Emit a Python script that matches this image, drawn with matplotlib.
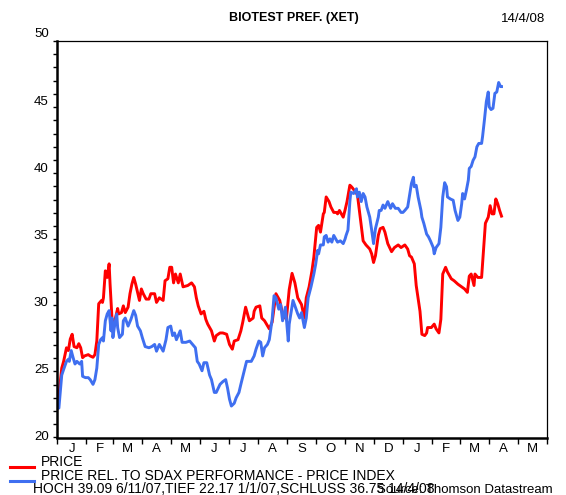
import matplotlib
matplotlib.use("Agg")
import matplotlib.pyplot as plt
import matplotlib.transforms as mtransforms
from matplotlib.ticker import MultipleLocator
import numpy as np
import pandas as pd

plt.rcParams['font.family'] = ['Liberation Sans', 'DejaVu Sans']

title = "BIOTEST PREF. (XET)"
date_label = "14/4/08"
legend_labels = ["PRICE", "PRICE REL. TO SDAX PERFORMANCE - PRICE INDEX"]
footer = "HOCH 39.09 6/11/07,TIEF 22.17 1/1/07,SCHLUSS 36.75 14/4/08"
source = "Source: Thomson Datastream"
month_labels = ["J", "F", "M", "A", "M", "J", "J", "A", "S", "O", "N", "D", "J", "F", "M", "A", "M"]
y_ticks = [20, 25, 30, 35, 40, 45, 50]

price_dates = [
    "2007-01-01", "2007-01-02", "2007-01-06", "2007-01-08", "2007-01-11", "2007-01-13", "2007-01-15",
    "2007-01-17", "2007-01-19", "2007-01-22", "2007-01-24", "2007-01-26", "2007-01-28", "2007-01-30",
    "2007-02-03", "2007-02-05", "2007-02-08", "2007-02-10", "2007-02-12", "2007-02-14", "2007-02-17",
    "2007-02-18", "2007-02-19", "2007-02-21", "2007-02-23", "2007-02-25", "2007-02-26", "2007-02-28",
    "2007-03-01", "2007-03-03", "2007-03-06", "2007-03-07", "2007-03-10", "2007-03-12", "2007-03-14",
    "2007-03-17", "2007-03-19", "2007-03-21", "2007-03-23", "2007-03-25", "2007-03-27", "2007-03-29",
    "2007-03-31", "2007-04-02", "2007-04-05", "2007-04-08", "2007-04-10", "2007-04-14", "2007-04-16",
    "2007-04-19", "2007-04-23", "2007-04-25", "2007-04-28", "2007-04-30", "2007-05-02", "2007-05-04",
    "2007-05-06", "2007-05-09", "2007-05-11", "2007-05-14", "2007-05-19", "2007-05-23", "2007-05-26",
    "2007-05-28", "2007-05-30", "2007-06-02", "2007-06-05", "2007-06-07", "2007-06-09", "2007-06-13",
    "2007-06-16", "2007-06-18", "2007-06-22", "2007-06-25", "2007-06-29", "2007-07-02", "2007-07-05",
    "2007-07-07", "2007-07-11", "2007-07-14", "2007-07-16", "2007-07-19", "2007-07-21", "2007-07-23",
    "2007-07-27", "2007-07-28", "2007-07-30", "2007-08-03", "2007-08-05", "2007-08-08", "2007-08-10",
    "2007-08-13", "2007-08-16", "2007-08-19", "2007-08-20", "2007-08-24", "2007-08-27", "2007-08-31",
    "2007-09-03", "2007-09-06", "2007-09-09", "2007-09-12", "2007-09-16", "2007-09-19", "2007-09-21",
    "2007-09-24", "2007-09-27", "2007-09-29", "2007-10-02", "2007-10-04", "2007-10-06", "2007-10-09",
    "2007-10-10", "2007-10-12", "2007-10-15", "2007-10-17", "2007-10-20", "2007-10-23", "2007-10-24",
    "2007-10-26", "2007-10-28", "2007-10-30", "2007-11-01", "2007-11-03", "2007-11-06", "2007-11-08",
    "2007-11-11", "2007-11-14", "2007-11-16", "2007-11-18", "2007-11-20", "2007-11-23", "2007-11-27",
    "2007-11-29", "2007-12-01", "2007-12-03", "2007-12-06", "2007-12-08", "2007-12-11", "2007-12-13",
    "2007-12-16", "2007-12-20", "2007-12-23", "2007-12-27", "2007-12-30", "2008-01-03", "2008-01-06",
    "2008-01-08", "2008-01-10", "2008-01-13", "2008-01-15", "2008-01-19", "2008-01-21", "2008-01-24",
    "2008-01-26", "2008-01-27", "2008-01-31", "2008-02-03", "2008-02-05", "2008-02-08", "2008-02-10",
    "2008-02-12", "2008-02-15", "2008-02-17", "2008-02-21", "2008-02-24", "2008-02-28", "2008-03-03",
    "2008-03-06", "2008-03-09", "2008-03-11", "2008-03-13", "2008-03-16", "2008-03-17", "2008-03-20",
    "2008-03-24", "2008-03-26", "2008-03-28", "2008-03-31", "2008-04-02", "2008-04-04", "2008-04-06",
    "2008-04-08", "2008-04-10", "2008-04-12", "2008-04-14",
]
price_values = [
    22.17, 22.49, 25.25, 25.76, 26.79, 26.58, 27.45,
    27.81, 26.88, 26.79, 27.10, 26.79, 26.04, 26.17,
    26.27, 26.17, 26.07, 26.27, 27.30, 30.12, 30.37,
    30.22, 30.57, 32.61, 32.11, 33.14, 31.60, 29.04,
    28.07, 28.83, 29.76, 29.35, 29.45, 29.96, 29.45,
    29.86, 30.88, 31.60, 32.11, 31.60, 30.98, 30.37,
    31.24, 30.88, 30.47, 30.47, 30.88, 30.88, 30.22,
    30.57, 30.37, 31.86, 32.01, 32.88, 32.88, 31.70,
    32.37, 31.70, 32.37, 31.40, 31.50, 31.70, 31.40,
    30.57, 29.96, 29.35, 29.55, 28.94, 28.58, 28.07,
    27.30, 27.71, 27.91, 27.91, 27.81, 27.04, 26.68,
    27.30, 27.40, 28.07, 28.73, 29.86, 29.35, 28.83,
    29.04, 29.55, 29.86, 29.96, 29.04, 28.83, 28.58,
    28.22, 28.73, 30.37, 30.88, 30.37, 29.35, 28.94,
    31.19, 32.42, 31.70, 30.57, 30.06, 29.04, 30.57,
    31.40, 32.61, 33.65, 35.90, 36.05, 35.54, 36.92,
    37.03, 38.20, 37.85, 37.44, 37.03, 37.03, 36.92,
    37.18, 36.92, 36.67, 37.23, 37.85, 39.09, 38.95,
    38.67, 38.36, 37.18, 36.05, 34.88, 34.57, 34.26,
    33.90, 33.24, 33.75, 35.29, 35.80, 35.90, 35.54,
    34.67, 34.06, 34.37, 34.57, 34.37, 34.57, 34.26,
    33.75, 33.65, 33.14, 31.50, 29.55, 27.81, 27.71,
    27.91, 28.32, 28.32, 28.58, 28.22, 27.91, 28.94,
    32.37, 32.88, 32.52, 32.01, 31.86, 31.60, 31.40,
    31.24, 30.98, 32.21, 32.37, 31.50, 32.37, 32.11,
    32.11, 34.16, 36.21, 36.67, 37.54, 36.92, 36.92,
    38.05, 37.69, 37.18, 36.75,
]

rel_dates = [
    "2007-01-01", "2007-01-03", "2007-01-06", "2007-01-08", "2007-01-11", "2007-01-13", "2007-01-14",
    "2007-01-16", "2007-01-18", "2007-01-20", "2007-01-22", "2007-01-25", "2007-01-27", "2007-01-28",
    "2007-01-31", "2007-02-03", "2007-02-05", "2007-02-08", "2007-02-10", "2007-02-12", "2007-02-14",
    "2007-02-16", "2007-02-18", "2007-02-19", "2007-02-21", "2007-02-23", "2007-02-25", "2007-02-27",
    "2007-02-28", "2007-03-01", "2007-03-03", "2007-03-05", "2007-03-06", "2007-03-08", "2007-03-11",
    "2007-03-12", "2007-03-14", "2007-03-17", "2007-03-20", "2007-03-23", "2007-03-25", "2007-03-27",
    "2007-03-30", "2007-04-01", "2007-04-04", "2007-04-08", "2007-04-11", "2007-04-14", "2007-04-16",
    "2007-04-19", "2007-04-23", "2007-04-26", "2007-04-28", "2007-05-01", "2007-05-03", "2007-05-05",
    "2007-05-07", "2007-05-11", "2007-05-13", "2007-05-17", "2007-05-21", "2007-05-24", "2007-05-27",
    "2007-05-29", "2007-05-31", "2007-06-03", "2007-06-05", "2007-06-08", "2007-06-11", "2007-06-13",
    "2007-06-16", "2007-06-18", "2007-06-22", "2007-06-25", "2007-06-28", "2007-06-30", "2007-07-02",
    "2007-07-04", "2007-07-07", "2007-07-09", "2007-07-12", "2007-07-14", "2007-07-17", "2007-07-20",
    "2007-07-22", "2007-07-25", "2007-07-28", "2007-07-30", "2007-08-02", "2007-08-04", "2007-08-06",
    "2007-08-08", "2007-08-11", "2007-08-13", "2007-08-16", "2007-08-18", "2007-08-20", "2007-08-23",
    "2007-08-25", "2007-08-27", "2007-08-30", "2007-09-02", "2007-09-03", "2007-09-07", "2007-09-09",
    "2007-09-12", "2007-09-14", "2007-09-16", "2007-09-19", "2007-09-21", "2007-09-23", "2007-09-26",
    "2007-09-29", "2007-10-01", "2007-10-03", "2007-10-04", "2007-10-06", "2007-10-09", "2007-10-10",
    "2007-10-12", "2007-10-14", "2007-10-16", "2007-10-18", "2007-10-20", "2007-10-22", "2007-10-24",
    "2007-10-27", "2007-10-30", "2007-11-01", "2007-11-02", "2007-11-04", "2007-11-06", "2007-11-07",
    "2007-11-10", "2007-11-13", "2007-11-14", "2007-11-16", "2007-11-18", "2007-11-20", "2007-11-22",
    "2007-11-24", "2007-11-27", "2007-11-29", "2007-12-01", "2007-12-03", "2007-12-06", "2007-12-07",
    "2007-12-09", "2007-12-11", "2007-12-13", "2007-12-16", "2007-12-19", "2007-12-21", "2007-12-24",
    "2007-12-27", "2007-12-30", "2008-01-01", "2008-01-03", "2008-01-06", "2008-01-08", "2008-01-10",
    "2008-01-12", "2008-01-13", "2008-01-15", "2008-01-17", "2008-01-20", "2008-01-21", "2008-01-23",
    "2008-01-26", "2008-01-28", "2008-01-30", "2008-02-02", "2008-02-03", "2008-02-05", "2008-02-08",
    "2008-02-10", "2008-02-12", "2008-02-14", "2008-02-16", "2008-02-17", "2008-02-20", "2008-02-23",
    "2008-02-25", "2008-02-28", "2008-03-01", "2008-03-03", "2008-03-04", "2008-03-06", "2008-03-08",
    "2008-03-10", "2008-03-11", "2008-03-13", "2008-03-15", "2008-03-17", "2008-03-19", "2008-03-21",
    "2008-03-24", "2008-03-25", "2008-03-27", "2008-03-29", "2008-03-31", "2008-04-01", "2008-04-03",
    "2008-04-05", "2008-04-07", "2008-04-09", "2008-04-11", "2008-04-13", "2008-04-14",
]
rel_values = [
    22.17, 22.23, 24.72, 25.15, 25.76, 25.92, 25.76,
    26.58, 26.04, 25.56, 25.76, 25.56, 25.76, 24.63,
    24.53, 24.53, 24.38, 24.02, 24.38, 25.25, 27.04,
    27.40, 27.56, 27.30, 28.83, 29.35, 29.60, 28.07,
    29.04, 27.56, 28.58, 29.35, 28.32, 27.56, 27.81,
    28.83, 29.04, 28.43, 28.94, 29.60, 29.24, 28.43,
    28.07, 27.56, 26.88, 26.79, 26.88, 27.04, 26.53,
    27.04, 26.53, 27.40, 28.32, 28.43, 27.71, 27.91,
    27.40, 28.07, 27.20, 27.20, 27.30, 27.04, 26.79,
    25.76, 25.56, 25.05, 25.66, 25.66, 24.72, 24.38,
    23.41, 23.41, 24.02, 24.23, 24.38, 23.72, 22.90,
    22.38, 22.59, 23.00, 23.41, 24.02, 24.89, 25.76,
    25.76, 25.76, 26.17, 26.68, 27.30, 27.20, 26.17,
    26.79, 27.04, 27.40, 28.94, 30.73, 30.57, 29.71,
    30.06, 28.83, 29.86, 27.30, 28.58, 30.37, 29.96,
    29.35, 29.04, 29.45, 28.32, 29.04, 30.57, 31.40,
    32.37, 33.14, 34.16, 33.90, 34.57, 34.57, 35.18,
    35.29, 34.78, 35.03, 34.78, 35.29, 35.03, 34.78,
    34.88, 34.67, 35.03, 35.29, 35.70, 37.85, 38.56,
    38.46, 38.82, 38.20, 38.56, 37.85, 38.46, 38.20,
    37.44, 36.67, 35.70, 34.67, 35.80, 36.67, 37.18,
    37.18, 37.59, 37.34, 37.85, 37.34, 37.69, 37.34,
    37.34, 37.03, 37.03, 37.18, 37.44, 38.36, 39.23,
    39.69, 38.97, 39.08, 38.20, 37.18, 36.67, 36.21,
    35.39, 35.18, 34.88, 34.37, 33.90, 34.37, 34.67,
    35.90, 38.20, 39.28, 38.97, 38.20, 38.05, 37.95,
    37.18, 36.42, 36.67, 37.69, 38.46, 38.05, 38.72,
    39.48, 40.36, 40.51, 40.97, 41.23, 41.99, 42.25,
    42.25, 42.76, 44.04, 45.42, 46.14, 45.02, 44.81,
    44.91, 46.04, 46.14, 46.86, 46.55, 46.55,
]

red = "#ff0000"
blue = "#3f6ff0"

fig = plt.figure(figsize=(5.66, 4.95), dpi=100)
ax = fig.add_axes([57 / 566, 1 - 437.5 / 495, 490 / 566, 396.5 / 495])

pd_price = pd.to_datetime(price_dates)
pd_rel = pd.to_datetime(rel_dates)
ax.plot(pd_price, price_values, color=red, lw=2.1, solid_joinstyle="round")
ax.plot(pd_rel, rel_values, color=blue, lw=2.1, solid_joinstyle="round")

start = pd.Timestamp("2007-01-01")
end = pd.Timestamp("2008-06-01")
ax.set_xlim(start, end)
ax.set_ylim(20, 50)

# y axis
ax.set_yticks(y_ticks)
ax.set_yticklabels([str(v) for v in y_ticks])
ax.yaxis.set_minor_locator(MultipleLocator(1))
ax.tick_params(axis="y", which="major", direction="out", length=3, width=1, labelsize=9.5, pad=3)
ax.tick_params(axis="y", which="minor", direction="out", length=3, width=1)
for v, tick in zip(y_ticks, ax.yaxis.get_major_ticks()):
    lift = mtransforms.ScaledTranslation(0, (1.5 + (v - 20) * 0.22) / 100, fig.dpi_scale_trans)
    tick.label1.set_transform(tick.label1.get_transform() + lift)

# x axis: ticks at month boundaries, labels at mid-month
month_starts = pd.date_range(start, end, freq="MS")
ax.set_xticks(month_starts)
ax.set_xticklabels([])
mids = [month_starts[i] + (month_starts[i + 1] - month_starts[i]) / 2 for i in range(len(month_starts) - 1)]
ax.set_xticks(mids, minor=True)
ax.set_xticklabels(month_labels, minor=True)
ax.tick_params(axis="x", which="major", direction="out", length=4, width=1)
ax.tick_params(axis="x", which="minor", length=0, labelsize=9.5, pad=4)

for s in ["left", "bottom"]:
    ax.spines[s].set_linewidth(1.8)
for s in ["top", "right"]:
    ax.spines[s].set_linewidth(0.9)

fig.text(294 / 566, 1 - 18 / 495, title, ha="center", va="center", fontsize=9, fontweight="bold")
fig.text(545 / 566, 1 - 19 / 495, date_label, ha="right", va="center", fontsize=9.5)

# legend
fig.add_artist(plt.Line2D([10 / 566, 34 / 566], [1 - 467 / 495] * 2, color=red, lw=2.2))
fig.add_artist(plt.Line2D([10 / 566, 34 / 566], [1 - 481 / 495] * 2, color=blue, lw=2.2))
fig.text(41 / 566, 1 - 462.5 / 495, legend_labels[0], ha="left", va="center", fontsize=10)
fig.text(41 / 566, 1 - 476 / 495, legend_labels[1], ha="left", va="center", fontsize=10)
fig.text(33 / 566, 1 - 489 / 495, footer, ha="left", va="center", fontsize=10)
fig.text(553 / 566, 1 - 490 / 495, source, ha="right", va="center", fontsize=9.5)

fig.savefig("out.png", dpi=100)
